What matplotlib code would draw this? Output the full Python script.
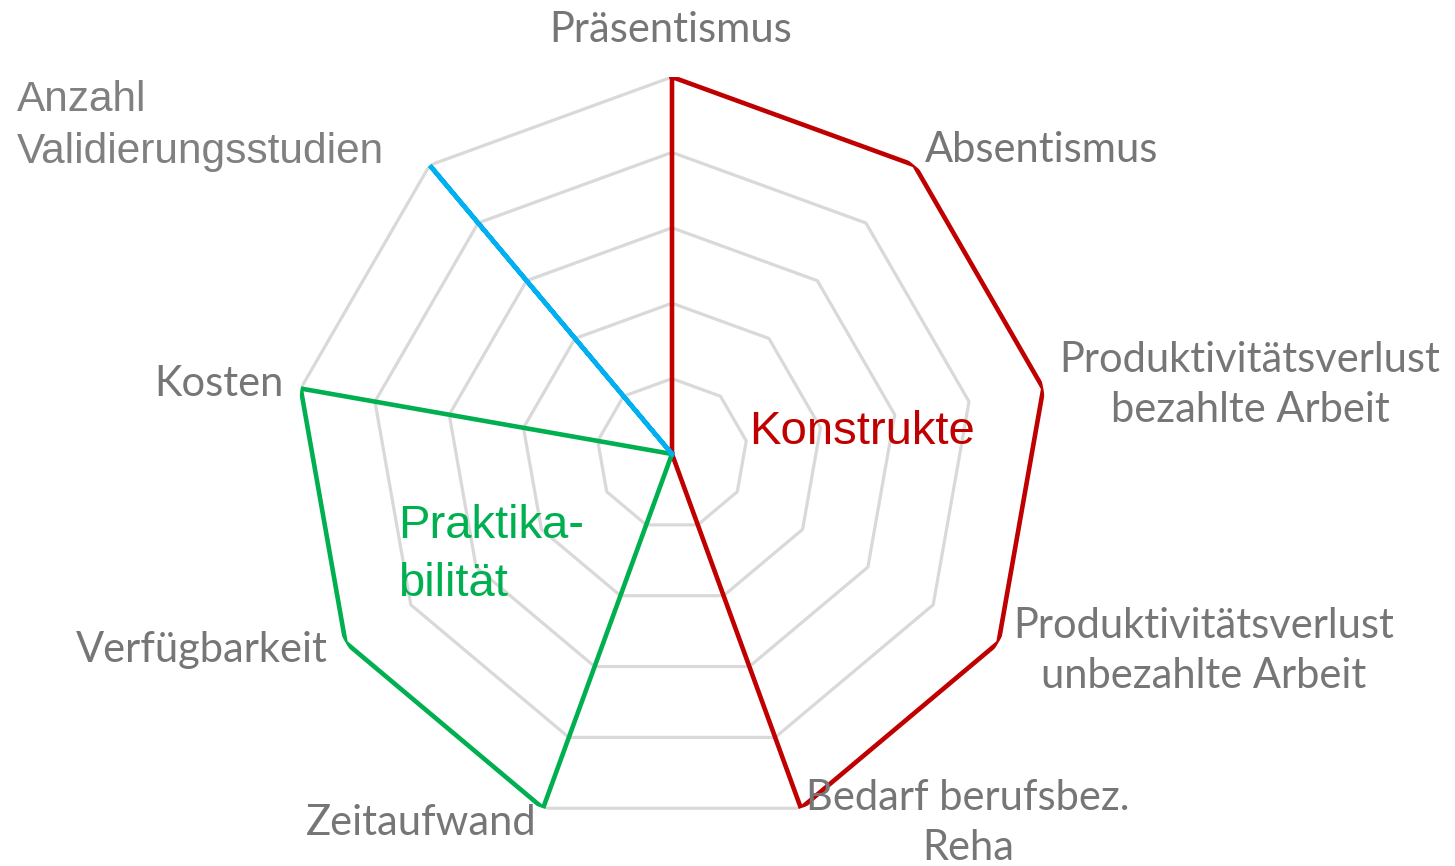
import numpy as np
import matplotlib
matplotlib.use('Agg')
import matplotlib.pyplot as plt

# Achsen des Netzdiagramms (im Uhrzeigersinn ab oben)
categories = ['Präsentismus', 'Absentismus',
              'Produktivitätsverlust\nbezahlte Arbeit',
              'Produktivitätsverlust\nunbezahlte Arbeit',
              'Bedarf berufsbez.\nReha', 'Zeitaufwand', 'Verfügbarkeit',
              'Kosten', 'Anzahl\nValidierungsstudien']
konstrukte = [5, 5, 5, 5, 5, 0, 0, 0, 0]
praktikabilitaet = [0, 0, 0, 0, 0, 5, 5, 5, 0]
validierung = [0, 0, 0, 0, 0, 0, 0, 0, 5]
ring_levels = [1, 2, 3, 4, 5]

W, H = 1455, 866
fig = plt.figure(figsize=(W / 100, H / 100), dpi=100)
fig.patch.set_facecolor('white')


def px(x, y):
    # Pixelposition -> Figurkoordinaten
    return x / W, 1 - y / H


cx, cy, rad = 672, 454, 377
ax = fig.add_axes([(cx - rad) / W, (H - cy - rad) / H, 2 * rad / W, 2 * rad / H],
                  projection='polar')
ax.set_theta_zero_location('N')
ax.set_theta_direction(-1)
ax.set_ylim(0, 5)
ax.grid(False)
ax.set_xticks([])
ax.set_yticks([])
ax.spines['polar'].set_visible(False)
ax.patch.set_alpha(0)

n = len(categories)
theta = np.arange(n) * 2 * np.pi / n
theta_closed = np.append(theta, theta[0])

# Gitterringe (Neunecke)
for lvl in ring_levels:
    ax.plot(theta_closed, [lvl] * (n + 1), color='#d9d9d9', lw=2.3, zorder=1)


def closed(v):
    return np.append(v, v[0])


ax.plot(theta_closed, closed(konstrukte), color='#c00000', lw=3.3, zorder=3,
        solid_joinstyle='miter')
ax.plot(theta_closed, closed(praktikabilitaet), color='#00b050', lw=3.3, zorder=3,
        solid_joinstyle='miter')
ax.plot(theta_closed, closed(validierung), color='#00b0f0', lw=3.3, zorder=3)

# Achsenbeschriftungen
lab = dict(color='#767676', fontsize=30, family=['Lato', 'DejaVu Sans'],
           linespacing=1.4)
fig.text(*px(671, 30), categories[0], ha='center', va='center', **lab)
fig.text(*px(925, 150), categories[1], ha='left', va='center', **lab)
fig.text(*px(1250, 385), categories[2], ha='center', va='center', multialignment='center', **lab)
fig.text(*px(1204, 651), categories[3], ha='center', va='center', multialignment='center', **lab)
fig.text(*px(968, 823), categories[4], ha='center', va='center', multialignment='center', **lab)
fig.text(*px(421, 823), categories[5], ha='center', va='center', **lab)
fig.text(*px(328, 650), categories[6], ha='right', va='center', **lab)
fig.text(*px(284, 384), categories[7], ha='right', va='center', **lab)
fig.text(*px(17, 126), categories[8], ha='left', va='center', color='#808080',
         fontsize=30.5, family=['Liberation Sans', 'DejaVu Sans'], linespacing=1.38)

# Gruppenbeschriftungen
fig.text(*px(749, 432), 'Konstrukte', ha='left', va='center', color='#c00000',
         fontsize=34, family=['Liberation Sans', 'DejaVu Sans'])
fig.text(*px(398, 555), 'Praktika-\nbilität', ha='left', va='center', color='#00b050',
         fontsize=34, family=['Liberation Sans', 'DejaVu Sans'], linespacing=1.42)

fig.savefig('out.png', dpi=100)
